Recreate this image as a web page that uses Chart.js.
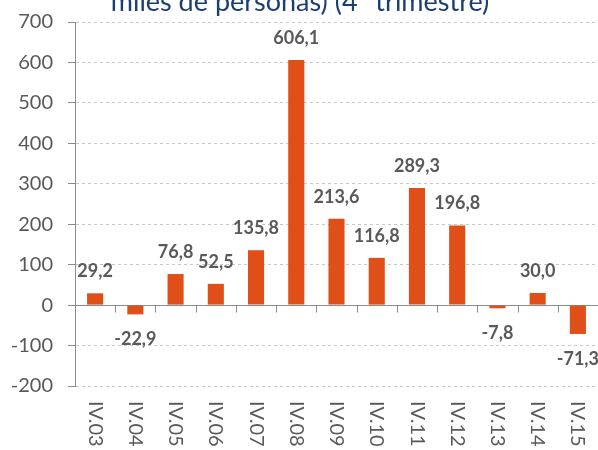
<!DOCTYPE html>
<html>
<head>
<meta charset="utf-8">
<script src="https://cdn.jsdelivr.net/npm/chart.js@4/dist/chart.umd.min.js"></script>
<style>
  html, body { margin: 0; padding: 0; background: #fff; overflow: hidden; }
  #wrap { width: 598px; height: 450px; position: relative; }
</style>
</head>
<body>
<div id="wrap"><canvas id="chart"></canvas></div>
<script>
const CATEGORIES = ["IV.03", "IV.04", "IV.05", "IV.06", "IV.07", "IV.08", "IV.09",
  "IV.10", "IV.11", "IV.12", "IV.13", "IV.14", "IV.15"]
const VALUES = [29.2, -22.9, 76.8, 52.5, 135.8, 606.1, 213.6, 116.8, 289.3, 196.8, -7.8, 30.0, -71.3]
const Y_TICKS = [-200, -100, 0, 100, 200, 300, 400, 500, 600, 700]
const TITLE_TAIL = "miles de personas) (4º trimestre)"

const BAR_COLOR = "#E04F17"
const TEXT_GRAY = "#595959"
const AXIS_GRAY = "#8C8C8C"
const FONT = "Lato, 'Open Sans', sans-serif"

const fmt = v => v.toFixed(1).replace(".", ",")

// zero line, category tick marks, rotated x labels, value labels, title tail
const decorations = {
  id: "decorations",
  beforeDatasetsDraw(chart) {
    const { ctx, chartArea, scales: { x, y } } = chart
    const y0 = Math.round(y.getPixelForValue(0)) + 0.5
    ctx.save()
    ctx.strokeStyle = AXIS_GRAY
    ctx.lineWidth = 1
    ctx.beginPath()
    ctx.moveTo(chartArea.left, y0)
    ctx.lineTo(chartArea.right, y0)
    const step = x.getPixelForTick(1) - x.getPixelForTick(0)
    for (let i = 0; i <= CATEGORIES.length; i++) {
      const px = Math.round(x.getPixelForTick(0) - step / 2 + i * step) + 0.5
      ctx.moveTo(px, y0)
      ctx.lineTo(px, y0 + 7)
    }
    ctx.stroke()
    ctx.restore()
  },
  afterDatasetsDraw(chart) {
    const { ctx, chartArea, scales: { x } } = chart
    ctx.save()
    // value labels
    ctx.font = "bold 18px " + FONT
    ctx.fillStyle = TEXT_GRAY
    ctx.textAlign = "center"
    ctx.textBaseline = "middle"
    chart.getDatasetMeta(0).data.forEach((bar, i) => {
      const v = VALUES[i]
      const ty = v >= 0 ? bar.y - 22 : bar.y + 25
      ctx.fillText(fmt(v), bar.x, ty)
    })
    // category labels, rotated clockwise
    ctx.font = "20px " + FONT
    ctx.textAlign = "left"
    ctx.textBaseline = "middle"
    CATEGORIES.forEach((label, i) => {
      ctx.save()
      ctx.translate(x.getPixelForTick(i), chartArea.bottom + 15)
      ctx.rotate(Math.PI / 2)
      ctx.fillText(label, 0, 0)
      ctx.restore()
    })
    // title (only its last line shows)
    ctx.font = "27px " + FONT
    ctx.fillStyle = "#1B3F73"
    ctx.textAlign = "center"
    ctx.textBaseline = "alphabetic"
    ctx.fillText(TITLE_TAIL, 300, 11)
    ctx.restore()
  }
}

new Chart(document.getElementById("chart"), {
  type: "bar",
  data: {
    labels: CATEGORIES,
    datasets: [{
      data: VALUES,
      backgroundColor: BAR_COLOR,
      borderWidth: 0,
      barPercentage: 0.4,
      categoryPercentage: 1,
    }]
  },
  options: {
    responsive: true,
    maintainAspectRatio: false,
    animation: false,
    layout: { padding: { top: 22, bottom: 56, left: 0, right: 0 } },
    plugins: {
      legend: { display: false },
      tooltip: { enabled: false },
    },
    scales: {
      x: {
        grid: { display: false },
        border: { display: false },
        ticks: { display: false },
      },
      y: {
        min: -200,
        max: 700,
        afterBuildTicks: scale => { scale.ticks = Y_TICKS.map(value => ({ value })) },
        afterFit: scale => {
          scale.width = 75
          scale.paddingTop = 0
          scale.paddingBottom = 0
        },
        ticks: {
          color: TEXT_GRAY,
          font: { family: FONT, size: 20 },
          padding: 15,
        },
        grid: {
          color: ctx => ctx.tick && ctx.tick.value === 0 ? "rgba(0,0,0,0)" : "#C8C8C8",
          tickColor: AXIS_GRAY,
          tickLength: 7,
          lineWidth: 1,
        },
        border: { color: AXIS_GRAY, width: 1, dash: [3, 3] },
      }
    }
  },
  plugins: [decorations]
})
</script>
</body>
</html>
